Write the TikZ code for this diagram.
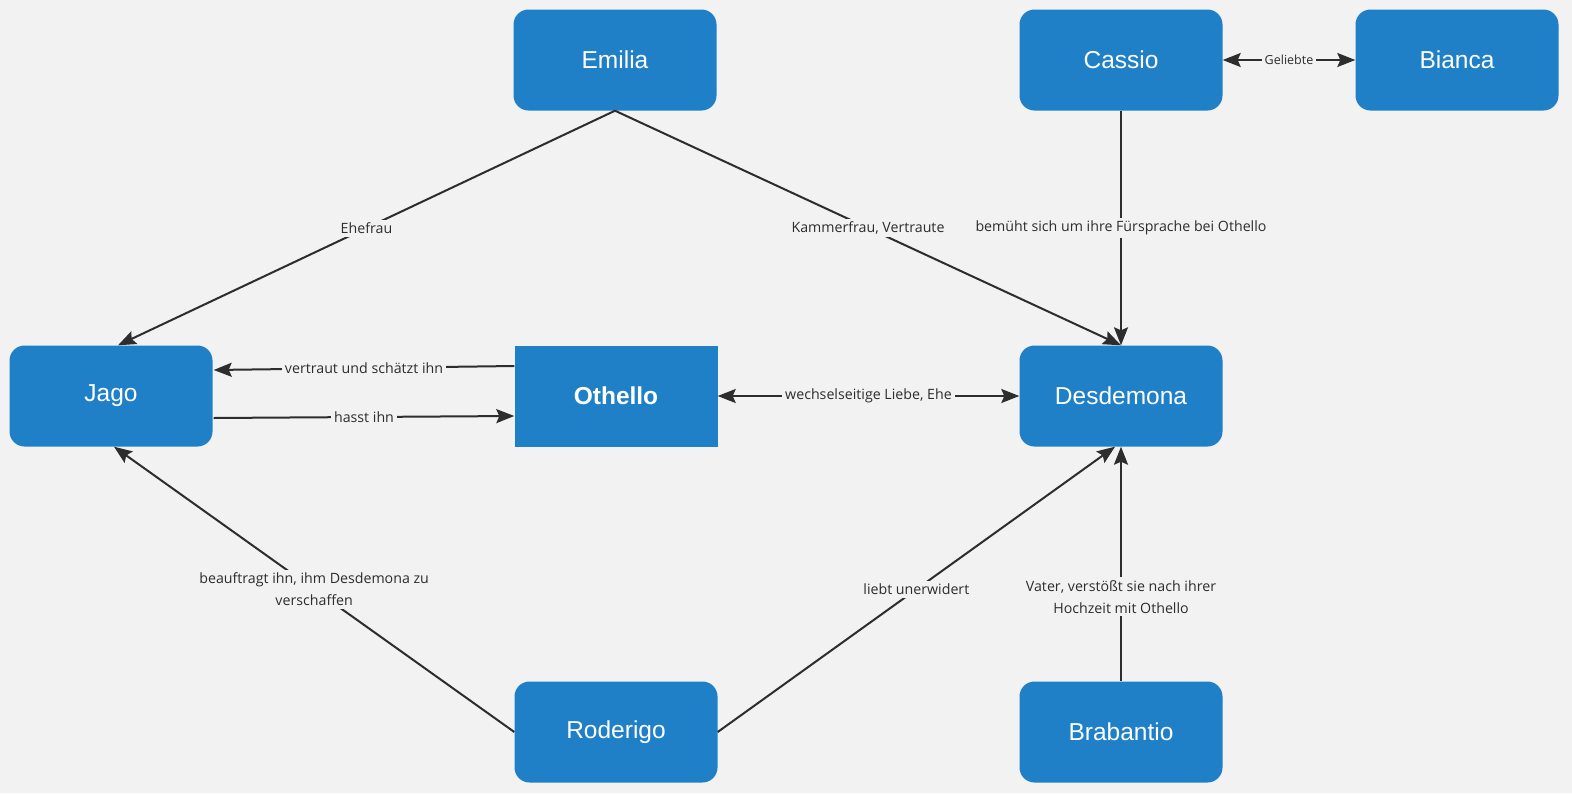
\documentclass[tikz,border=0pt]{standalone}
\usepackage{fontspec}
\setmainfont{Liberation Sans}
\newfontfamily\labelfont{Open Sans}
\usetikzlibrary{arrows.meta}
\definecolor{BoxClr}{RGB}{31,128,200}
\definecolor{BackClr}{RGB}{242,242,242}
\definecolor{LineClr}{RGB}{45,45,45}

\begin{document}
\begin{tikzpicture}[x=1pt,y=-1pt,
  person/.style={fill=BoxClr,text=white,rounded corners=15pt,minimum width=203pt,
    minimum height=101pt,font=\fontsize{24.5}{29}\selectfont},
  hero/.style={person,rounded corners=0pt,font=\fontsize{24.5}{29}\selectfont\bfseries},
  tip/.tip={Stealth[length=18pt,width=14pt,inset=3pt]},
  rel/.style={draw=LineClr,line width=2pt,-tip},
  both/.style={rel,tip-tip},
  lbl/.style={fill=BackClr,text=LineClr,inner sep=3pt,align=center,
    font=\labelfont\fontsize{14.2}{22}\selectfont}]
\fill[BackClr] (0,0) rectangle (1572,793);
\useasboundingbox (0,0) rectangle (1572,793);

\node[person] (emilia)    at (615,60)   {Emilia};
\node[person] (cassio)    at (1121,60)  {Cassio};
\node[person] (bianca)    at (1457,60)  {Bianca};
\node[person] (jago)      at (111,396)  {Jago};
\node[hero]   (othello)   at (616,396)  {Othello};
\node[person] (desdemona) at (1121,396) {Desdemona};
\node[person] (roderigo)  at (616,732)  {Roderigo};
\node[person] (brabantio) at (1121,732) {Brabantio};

\draw[both] (cassio) -- node[lbl,font=\labelfont\fontsize{12.5}{14}\selectfont]{Geliebte} (bianca);
\draw[rel] (emilia.south) -- node[lbl]{Ehefrau} ([xshift=7pt]jago.north);
\draw[rel] (emilia.south) -- node[lbl]{Kammerfrau, Vertraute} (desdemona.north);
\draw[rel] (cassio) -- node[lbl]{bemüht sich um ihre Fürsprache bei Othello} (desdemona);
\draw[rel] ([yshift=30pt]othello.west) -- node[lbl]{vertraut und schätzt ihn} ([yshift=26pt,xshift=1pt]jago.east);
\draw[rel] ([yshift=-22pt,xshift=1pt]jago.east) -- node[lbl]{hasst ihn} ([yshift=-20pt]othello.west);
\draw[both] (othello) -- node[lbl]{wechselseitige Liebe, Ehe} (desdemona);
\draw[rel] (roderigo.west) -- node[lbl]{beauftragt ihn, ihm Desdemona zu\\verschaffen} ([xshift=3pt]jago.south);
\draw[rel] (roderigo.east) -- node[lbl]{liebt unerwidert} ([xshift=-6pt]desdemona.south);
\draw[rel] (brabantio) -- node[lbl,pos=0.36]{Vater, verstößt sie nach ihrer\\Hochzeit mit Othello} (desdemona);

\end{tikzpicture}
\end{document}
